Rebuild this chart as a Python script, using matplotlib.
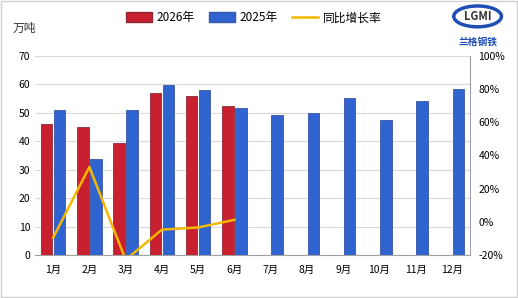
import matplotlib
matplotlib.use("Agg")
import matplotlib.pyplot as plt
import numpy as np
from matplotlib.patches import Patch, Rectangle, Ellipse
from matplotlib.lines import Line2D

plt.rcParams['font.family'] = ['Noto Sans CJK SC', 'DejaVu Sans']

months = ['1月', '2月', '3月', '4月', '5月', '6月', '7月', '8月', '9月', '10月', '11月', '12月']
y2026 = [46.1, 45.0, 39.3, 57.0, 56.0, 52.3]
y2025 = [51.0, 33.8, 51.0, 59.8, 58.0, 51.7, 49.2, 49.9, 55.1, 47.5, 54.1, 58.3]
# growth rate, %
growth = [-9.6, 33.1, -22.9, -4.7, -3.4, 1.2]

red = '#C8202E'
blue = '#2F63CF'
line_col = '#F5B800'

fig = plt.figure(figsize=(5.18, 2.98), dpi=100)
fig.patches.append(Rectangle((0.002, 0.004), 0.996, 0.992, transform=fig.transFigure,
                             fill=False, edgecolor='#D0D0D0', linewidth=1))

ax = fig.add_axes([0.0676, 0.1443, 0.8398, 0.6678])
x = np.arange(len(months))
w = 0.32
off = 0.18
ax.bar(x[:len(y2026)] - off, y2026, width=w, color=red, edgecolor='#8E2A3A', linewidth=0.6, zorder=3)
ax.bar(x + off, y2025, width=w, color=blue, edgecolor='#3A56A8', linewidth=0.6, zorder=3)

ax.set_xlim(-0.5, 11.5)
ax.set_ylim(0, 70)
ax.set_yticks(range(0, 71, 10))
ax.set_xticks(x)
ax.set_xticklabels(months)
ax.grid(axis='y', color='#D9D9D9', linewidth=0.8, zorder=0)
ax.tick_params(axis='both', length=0, labelsize=7.5, colors='#000000')
ax.tick_params(axis='x', pad=7)
for s in ['top', 'left', 'right']:
    ax.spines[s].set_visible(False)
ax.spines['bottom'].set_color('#A0A0A0')

ax2 = ax.twinx()
ax2.plot(x[:len(growth)], growth, color=line_col, linewidth=1.8, zorder=4)
ax2.set_ylim(-20, 100)
ax2.set_yticks(range(-20, 101, 20))
ax2.set_yticklabels([f'{v}%' for v in range(-20, 101, 20)])
ax2.tick_params(axis='y', length=0, labelsize=7.5, pad=6)
for s in ['top', 'left', 'bottom']:
    ax2.spines[s].set_visible(False)
ax2.spines['right'].set_color('#A0A0A0')

fig.text(0.025, 0.905, '万吨', fontsize=8.5, color='#333333', va='center')

handles = [Patch(facecolor=red, edgecolor='#8E2A3A', label='2026年'),
           Patch(facecolor=blue, edgecolor='#3A56A8', label='2025年'),
           Line2D([0], [0], color=line_col, linewidth=1.8, label='同比增长率')]
fig.legend(handles=handles, loc='center', bbox_to_anchor=(0.49, 0.94), ncol=3, frameon=False,
           fontsize=8.5, handlelength=2.2, handleheight=0.9, columnspacing=1.2, handletextpad=0.4)

# logo
fig.patches.append(Ellipse((0.922, 0.945), 0.092, 0.07, transform=fig.transFigure,
                           facecolor='white', edgecolor='#1F4FB5', linewidth=2.5))
fig.text(0.922, 0.945, 'LGMI', fontsize=8, color='#333333', ha='center', va='center',
         fontweight='bold')
fig.text(0.922, 0.86, '兰格钢铁', fontsize=7, color='#1F4FB5', ha='center', va='center',
         fontweight='bold', style='italic')

fig.savefig('out.png', dpi=100)
